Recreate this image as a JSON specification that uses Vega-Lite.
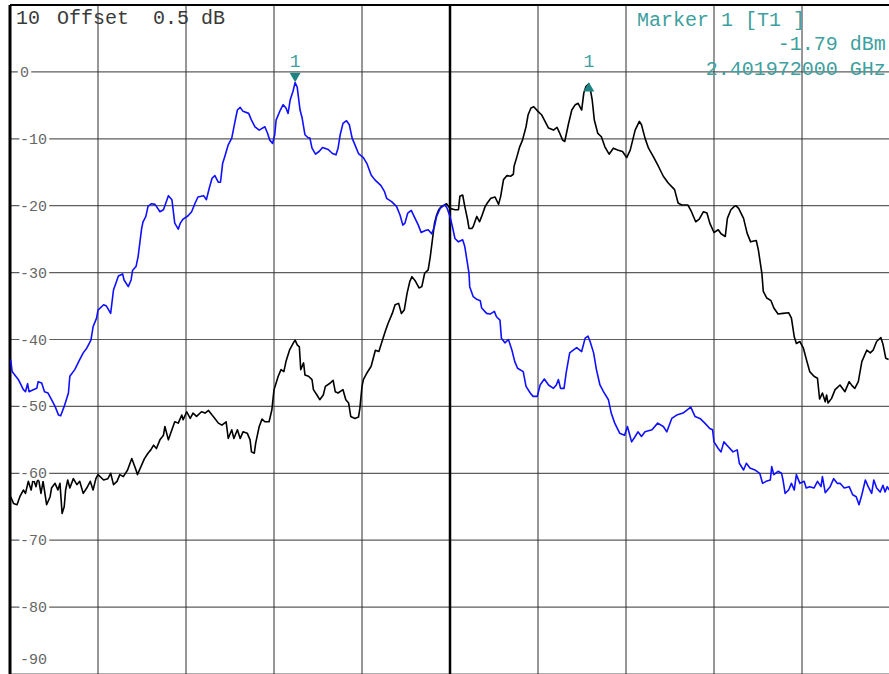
{
  "$schema": "https://vega.github.io/schema/vega-lite/v6.json",
  "width": 880,
  "height": 669,
  "autosize": {"type": "none"},
  "padding": {"left": 10, "top": 5, "right": 0, "bottom": 0},
  "background": "white",
  "config": {"view": {"stroke": null}},
  "datasets": {
    "levels": [
      {"level": 0, "label": "0"},
      {"level": -10, "label": "-10"},
      {"level": -20, "label": "-20"},
      {"level": -30, "label": "-30"},
      {"level": -40, "label": "-40"},
      {"level": -50, "label": "-50"},
      {"level": -60, "label": "-60"},
      {"level": -70, "label": "-70"},
      {"level": -80, "label": "-80"},
      {"level": -90, "label": "-90"}
    ],
    "divisions": [
      {"freq": 2395.00},
      {"freq": 2396.25},
      {"freq": 2397.50},
      {"freq": 2398.75},
      {"freq": 2401.25},
      {"freq": 2402.50},
      {"freq": 2403.75},
      {"freq": 2405.00}
    ],
    "markers": [
      {"marker": 1, "trace": "T2", "freq": 2397.80, "level": -1.6},
      {"marker": 1, "trace": "T1", "freq": 2401.972, "level": -1.79}
    ],
    "traces": [
      {"trace": "T1", "freq": 2393.76, "level": -63.5},
      {"trace": "T1", "freq": 2393.80, "level": -64.5},
      {"trace": "T1", "freq": 2393.85, "level": -64.7},
      {"trace": "T1", "freq": 2393.89, "level": -63.5},
      {"trace": "T1", "freq": 2393.94, "level": -62.5},
      {"trace": "T1", "freq": 2393.97, "level": -63.0},
      {"trace": "T1", "freq": 2394.01, "level": -61.2},
      {"trace": "T1", "freq": 2394.05, "level": -62.5},
      {"trace": "T1", "freq": 2394.08, "level": -60.8},
      {"trace": "T1", "freq": 2394.12, "level": -62.0},
      {"trace": "T1", "freq": 2394.15, "level": -60.5},
      {"trace": "T1", "freq": 2394.19, "level": -63.0},
      {"trace": "T1", "freq": 2394.22, "level": -61.2},
      {"trace": "T1", "freq": 2394.27, "level": -64.7},
      {"trace": "T1", "freq": 2394.32, "level": -63.5},
      {"trace": "T1", "freq": 2394.34, "level": -62.2},
      {"trace": "T1", "freq": 2394.39, "level": -61.5},
      {"trace": "T1", "freq": 2394.43, "level": -62.5},
      {"trace": "T1", "freq": 2394.46, "level": -61.5},
      {"trace": "T1", "freq": 2394.49, "level": -66.0},
      {"trace": "T1", "freq": 2394.52, "level": -65.0},
      {"trace": "T1", "freq": 2394.54, "level": -62.5},
      {"trace": "T1", "freq": 2394.57, "level": -61.0},
      {"trace": "T1", "freq": 2394.60, "level": -62.2},
      {"trace": "T1", "freq": 2394.65, "level": -60.8},
      {"trace": "T1", "freq": 2394.70, "level": -61.7},
      {"trace": "T1", "freq": 2394.74, "level": -61.2},
      {"trace": "T1", "freq": 2394.79, "level": -63.0},
      {"trace": "T1", "freq": 2394.84, "level": -62.2},
      {"trace": "T1", "freq": 2394.89, "level": -61.2},
      {"trace": "T1", "freq": 2394.93, "level": -62.5},
      {"trace": "T1", "freq": 2394.97, "level": -60.8},
      {"trace": "T1", "freq": 2395.00, "level": -60.2},
      {"trace": "T1", "freq": 2395.08, "level": -61.0},
      {"trace": "T1", "freq": 2395.14, "level": -60.8},
      {"trace": "T1", "freq": 2395.18, "level": -60.0},
      {"trace": "T1", "freq": 2395.22, "level": -61.7},
      {"trace": "T1", "freq": 2395.27, "level": -61.2},
      {"trace": "T1", "freq": 2395.31, "level": -60.2},
      {"trace": "T1", "freq": 2395.36, "level": -60.5},
      {"trace": "T1", "freq": 2395.42, "level": -59.5},
      {"trace": "T1", "freq": 2395.48, "level": -57.8},
      {"trace": "T1", "freq": 2395.54, "level": -59.5},
      {"trace": "T1", "freq": 2395.56, "level": -60.2},
      {"trace": "T1", "freq": 2395.61, "level": -59.0},
      {"trace": "T1", "freq": 2395.66, "level": -57.8},
      {"trace": "T1", "freq": 2395.71, "level": -57.0},
      {"trace": "T1", "freq": 2395.75, "level": -56.5},
      {"trace": "T1", "freq": 2395.79, "level": -55.8},
      {"trace": "T1", "freq": 2395.83, "level": -56.3},
      {"trace": "T1", "freq": 2395.88, "level": -55.0},
      {"trace": "T1", "freq": 2395.93, "level": -54.3},
      {"trace": "T1", "freq": 2395.95, "level": -53.0},
      {"trace": "T1", "freq": 2396.00, "level": -55.0},
      {"trace": "T1", "freq": 2396.05, "level": -53.5},
      {"trace": "T1", "freq": 2396.09, "level": -52.3},
      {"trace": "T1", "freq": 2396.14, "level": -52.5},
      {"trace": "T1", "freq": 2396.19, "level": -51.3},
      {"trace": "T1", "freq": 2396.21, "level": -52.0},
      {"trace": "T1", "freq": 2396.26, "level": -50.8},
      {"trace": "T1", "freq": 2396.31, "level": -51.8},
      {"trace": "T1", "freq": 2396.35, "level": -51.0},
      {"trace": "T1", "freq": 2396.40, "level": -51.5},
      {"trace": "T1", "freq": 2396.47, "level": -50.8},
      {"trace": "T1", "freq": 2396.52, "level": -51.0},
      {"trace": "T1", "freq": 2396.57, "level": -50.6},
      {"trace": "T1", "freq": 2396.62, "level": -51.3},
      {"trace": "T1", "freq": 2396.66, "level": -51.8},
      {"trace": "T1", "freq": 2396.71, "level": -52.5},
      {"trace": "T1", "freq": 2396.76, "level": -52.8},
      {"trace": "T1", "freq": 2396.82, "level": -52.3},
      {"trace": "T1", "freq": 2396.85, "level": -54.8},
      {"trace": "T1", "freq": 2396.90, "level": -53.5},
      {"trace": "T1", "freq": 2396.93, "level": -54.8},
      {"trace": "T1", "freq": 2396.98, "level": -53.5},
      {"trace": "T1", "freq": 2397.02, "level": -54.8},
      {"trace": "T1", "freq": 2397.06, "level": -53.8},
      {"trace": "T1", "freq": 2397.12, "level": -54.0},
      {"trace": "T1", "freq": 2397.16, "level": -55.0},
      {"trace": "T1", "freq": 2397.18, "level": -56.8},
      {"trace": "T1", "freq": 2397.22, "level": -57.0},
      {"trace": "T1", "freq": 2397.24, "level": -55.5},
      {"trace": "T1", "freq": 2397.29, "level": -53.0},
      {"trace": "T1", "freq": 2397.33, "level": -51.9},
      {"trace": "T1", "freq": 2397.37, "level": -52.3},
      {"trace": "T1", "freq": 2397.43, "level": -52.3},
      {"trace": "T1", "freq": 2397.47, "level": -50.5},
      {"trace": "T1", "freq": 2397.50, "level": -47.5},
      {"trace": "T1", "freq": 2397.56, "level": -45.5},
      {"trace": "T1", "freq": 2397.60, "level": -44.5},
      {"trace": "T1", "freq": 2397.64, "level": -44.8},
      {"trace": "T1", "freq": 2397.67, "level": -43.3},
      {"trace": "T1", "freq": 2397.72, "level": -41.6},
      {"trace": "T1", "freq": 2397.77, "level": -40.6},
      {"trace": "T1", "freq": 2397.80, "level": -40.1},
      {"trace": "T1", "freq": 2397.83, "level": -40.8},
      {"trace": "T1", "freq": 2397.86, "level": -41.1},
      {"trace": "T1", "freq": 2397.88, "level": -44.5},
      {"trace": "T1", "freq": 2397.92, "level": -43.5},
      {"trace": "T1", "freq": 2397.94, "level": -45.3},
      {"trace": "T1", "freq": 2397.99, "level": -45.5},
      {"trace": "T1", "freq": 2398.04, "level": -46.0},
      {"trace": "T1", "freq": 2398.06, "level": -47.5},
      {"trace": "T1", "freq": 2398.11, "level": -48.3},
      {"trace": "T1", "freq": 2398.15, "level": -49.0},
      {"trace": "T1", "freq": 2398.20, "level": -48.3},
      {"trace": "T1", "freq": 2398.23, "level": -47.0},
      {"trace": "T1", "freq": 2398.30, "level": -46.5},
      {"trace": "T1", "freq": 2398.34, "level": -46.1},
      {"trace": "T1", "freq": 2398.37, "level": -47.8},
      {"trace": "T1", "freq": 2398.41, "level": -48.0},
      {"trace": "T1", "freq": 2398.48, "level": -47.5},
      {"trace": "T1", "freq": 2398.52, "level": -49.0},
      {"trace": "T1", "freq": 2398.56, "level": -49.5},
      {"trace": "T1", "freq": 2398.59, "level": -51.5},
      {"trace": "T1", "freq": 2398.65, "level": -51.8},
      {"trace": "T1", "freq": 2398.70, "level": -51.6},
      {"trace": "T1", "freq": 2398.72, "level": -50.3},
      {"trace": "T1", "freq": 2398.75, "level": -47.0},
      {"trace": "T1", "freq": 2398.77, "level": -46.0},
      {"trace": "T1", "freq": 2398.82, "level": -45.0},
      {"trace": "T1", "freq": 2398.88, "level": -44.0},
      {"trace": "T1", "freq": 2398.91, "level": -42.8},
      {"trace": "T1", "freq": 2398.94, "level": -41.6},
      {"trace": "T1", "freq": 2398.99, "level": -41.8},
      {"trace": "T1", "freq": 2399.04, "level": -40.1},
      {"trace": "T1", "freq": 2399.08, "level": -38.8},
      {"trace": "T1", "freq": 2399.12, "level": -37.6},
      {"trace": "T1", "freq": 2399.18, "level": -36.1},
      {"trace": "T1", "freq": 2399.22, "level": -34.8},
      {"trace": "T1", "freq": 2399.27, "level": -34.6},
      {"trace": "T1", "freq": 2399.31, "level": -36.1},
      {"trace": "T1", "freq": 2399.35, "level": -35.6},
      {"trace": "T1", "freq": 2399.39, "level": -33.1},
      {"trace": "T1", "freq": 2399.43, "level": -31.3},
      {"trace": "T1", "freq": 2399.46, "level": -30.6},
      {"trace": "T1", "freq": 2399.51, "level": -31.3},
      {"trace": "T1", "freq": 2399.56, "level": -32.3},
      {"trace": "T1", "freq": 2399.60, "level": -32.1},
      {"trace": "T1", "freq": 2399.64, "level": -30.1},
      {"trace": "T1", "freq": 2399.69, "level": -29.6},
      {"trace": "T1", "freq": 2399.72, "level": -27.6},
      {"trace": "T1", "freq": 2399.75, "level": -25.1},
      {"trace": "T1", "freq": 2399.78, "level": -22.6},
      {"trace": "T1", "freq": 2399.81, "level": -21.4},
      {"trace": "T1", "freq": 2399.84, "level": -20.6},
      {"trace": "T1", "freq": 2399.88, "level": -20.1},
      {"trace": "T1", "freq": 2399.92, "level": -19.9},
      {"trace": "T1", "freq": 2399.95, "level": -19.7},
      {"trace": "T1", "freq": 2400.00, "level": -20.4},
      {"trace": "T1", "freq": 2400.07, "level": -20.6},
      {"trace": "T1", "freq": 2400.12, "level": -20.6},
      {"trace": "T1", "freq": 2400.14, "level": -18.6},
      {"trace": "T1", "freq": 2400.18, "level": -18.4},
      {"trace": "T1", "freq": 2400.21, "level": -20.1},
      {"trace": "T1", "freq": 2400.25, "level": -22.1},
      {"trace": "T1", "freq": 2400.27, "level": -23.4},
      {"trace": "T1", "freq": 2400.31, "level": -23.4},
      {"trace": "T1", "freq": 2400.33, "level": -23.1},
      {"trace": "T1", "freq": 2400.38, "level": -21.6},
      {"trace": "T1", "freq": 2400.42, "level": -22.4},
      {"trace": "T1", "freq": 2400.45, "level": -21.6},
      {"trace": "T1", "freq": 2400.50, "level": -20.1},
      {"trace": "T1", "freq": 2400.53, "level": -19.6},
      {"trace": "T1", "freq": 2400.58, "level": -18.9},
      {"trace": "T1", "freq": 2400.64, "level": -18.7},
      {"trace": "T1", "freq": 2400.69, "level": -19.8},
      {"trace": "T1", "freq": 2400.72, "level": -18.6},
      {"trace": "T1", "freq": 2400.76, "level": -16.1},
      {"trace": "T1", "freq": 2400.81, "level": -15.5},
      {"trace": "T1", "freq": 2400.86, "level": -15.6},
      {"trace": "T1", "freq": 2400.90, "level": -15.3},
      {"trace": "T1", "freq": 2400.91, "level": -14.1},
      {"trace": "T1", "freq": 2400.95, "level": -12.7},
      {"trace": "T1", "freq": 2400.99, "level": -11.2},
      {"trace": "T1", "freq": 2401.03, "level": -10.2},
      {"trace": "T1", "freq": 2401.08, "level": -8.2},
      {"trace": "T1", "freq": 2401.11, "level": -6.4},
      {"trace": "T1", "freq": 2401.15, "level": -5.4},
      {"trace": "T1", "freq": 2401.19, "level": -5.2},
      {"trace": "T1", "freq": 2401.25, "level": -5.9},
      {"trace": "T1", "freq": 2401.30, "level": -6.4},
      {"trace": "T1", "freq": 2401.35, "level": -7.4},
      {"trace": "T1", "freq": 2401.40, "level": -8.4},
      {"trace": "T1", "freq": 2401.47, "level": -8.7},
      {"trace": "T1", "freq": 2401.52, "level": -8.3},
      {"trace": "T1", "freq": 2401.56, "level": -9.2},
      {"trace": "T1", "freq": 2401.60, "level": -10.2},
      {"trace": "T1", "freq": 2401.63, "level": -10.4},
      {"trace": "T1", "freq": 2401.68, "level": -7.9},
      {"trace": "T1", "freq": 2401.73, "level": -5.7},
      {"trace": "T1", "freq": 2401.78, "level": -4.9},
      {"trace": "T1", "freq": 2401.82, "level": -4.7},
      {"trace": "T1", "freq": 2401.87, "level": -5.7},
      {"trace": "T1", "freq": 2401.90, "level": -3.2},
      {"trace": "T1", "freq": 2401.93, "level": -2.2},
      {"trace": "T1", "freq": 2401.972, "level": -1.79},
      {"trace": "T1", "freq": 2401.99, "level": -2.4},
      {"trace": "T1", "freq": 2402.02, "level": -4.2},
      {"trace": "T1", "freq": 2402.05, "level": -7.2},
      {"trace": "T1", "freq": 2402.10, "level": -9.2},
      {"trace": "T1", "freq": 2402.15, "level": -9.7},
      {"trace": "T1", "freq": 2402.20, "level": -11.2},
      {"trace": "T1", "freq": 2402.26, "level": -12.3},
      {"trace": "T1", "freq": 2402.32, "level": -11.4},
      {"trace": "T1", "freq": 2402.39, "level": -11.7},
      {"trace": "T1", "freq": 2402.45, "level": -11.9},
      {"trace": "T1", "freq": 2402.51, "level": -12.8},
      {"trace": "T1", "freq": 2402.56, "level": -11.7},
      {"trace": "T1", "freq": 2402.63, "level": -8.7},
      {"trace": "T1", "freq": 2402.69, "level": -7.4},
      {"trace": "T1", "freq": 2402.72, "level": -7.9},
      {"trace": "T1", "freq": 2402.77, "level": -9.9},
      {"trace": "T1", "freq": 2402.82, "level": -11.4},
      {"trace": "T1", "freq": 2402.89, "level": -12.7},
      {"trace": "T1", "freq": 2402.96, "level": -14.1},
      {"trace": "T1", "freq": 2403.03, "level": -15.6},
      {"trace": "T1", "freq": 2403.10, "level": -16.6},
      {"trace": "T1", "freq": 2403.19, "level": -17.6},
      {"trace": "T1", "freq": 2403.24, "level": -19.6},
      {"trace": "T1", "freq": 2403.29, "level": -19.9},
      {"trace": "T1", "freq": 2403.38, "level": -19.9},
      {"trace": "T1", "freq": 2403.43, "level": -20.9},
      {"trace": "T1", "freq": 2403.49, "level": -22.4},
      {"trace": "T1", "freq": 2403.54, "level": -22.0},
      {"trace": "T1", "freq": 2403.60, "level": -20.9},
      {"trace": "T1", "freq": 2403.65, "level": -21.1},
      {"trace": "T1", "freq": 2403.69, "level": -22.6},
      {"trace": "T1", "freq": 2403.75, "level": -24.0},
      {"trace": "T1", "freq": 2403.81, "level": -23.6},
      {"trace": "T1", "freq": 2403.85, "level": -24.2},
      {"trace": "T1", "freq": 2403.91, "level": -24.6},
      {"trace": "T1", "freq": 2403.94, "level": -21.9},
      {"trace": "T1", "freq": 2403.99, "level": -20.6},
      {"trace": "T1", "freq": 2404.04, "level": -20.1},
      {"trace": "T1", "freq": 2404.06, "level": -20.0},
      {"trace": "T1", "freq": 2404.10, "level": -20.4},
      {"trace": "T1", "freq": 2404.17, "level": -21.9},
      {"trace": "T1", "freq": 2404.22, "level": -24.1},
      {"trace": "T1", "freq": 2404.27, "level": -25.4},
      {"trace": "T1", "freq": 2404.35, "level": -25.2},
      {"trace": "T1", "freq": 2404.38, "level": -26.6},
      {"trace": "T1", "freq": 2404.43, "level": -30.1},
      {"trace": "T1", "freq": 2404.45, "level": -32.8},
      {"trace": "T1", "freq": 2404.50, "level": -33.8},
      {"trace": "T1", "freq": 2404.56, "level": -34.2},
      {"trace": "T1", "freq": 2404.60, "level": -35.3},
      {"trace": "T1", "freq": 2404.66, "level": -36.2},
      {"trace": "T1", "freq": 2404.73, "level": -36.1},
      {"trace": "T1", "freq": 2404.81, "level": -36.0},
      {"trace": "T1", "freq": 2404.85, "level": -36.8},
      {"trace": "T1", "freq": 2404.89, "level": -39.6},
      {"trace": "T1", "freq": 2404.92, "level": -40.6},
      {"trace": "T1", "freq": 2404.97, "level": -40.3},
      {"trace": "T1", "freq": 2405.02, "level": -41.3},
      {"trace": "T1", "freq": 2405.07, "level": -43.3},
      {"trace": "T1", "freq": 2405.11, "level": -44.8},
      {"trace": "T1", "freq": 2405.17, "level": -45.5},
      {"trace": "T1", "freq": 2405.22, "level": -45.8},
      {"trace": "T1", "freq": 2405.25, "level": -48.9},
      {"trace": "T1", "freq": 2405.29, "level": -48.0},
      {"trace": "T1", "freq": 2405.33, "level": -49.3},
      {"trace": "T1", "freq": 2405.35, "level": -48.3},
      {"trace": "T1", "freq": 2405.37, "level": -49.5},
      {"trace": "T1", "freq": 2405.42, "level": -48.8},
      {"trace": "T1", "freq": 2405.47, "level": -47.5},
      {"trace": "T1", "freq": 2405.54, "level": -46.8},
      {"trace": "T1", "freq": 2405.61, "level": -47.8},
      {"trace": "T1", "freq": 2405.67, "level": -46.3},
      {"trace": "T1", "freq": 2405.71, "level": -46.9},
      {"trace": "T1", "freq": 2405.75, "level": -47.3},
      {"trace": "T1", "freq": 2405.80, "level": -46.3},
      {"trace": "T1", "freq": 2405.85, "level": -43.3},
      {"trace": "T1", "freq": 2405.92, "level": -41.6},
      {"trace": "T1", "freq": 2405.97, "level": -42.0},
      {"trace": "T1", "freq": 2406.01, "level": -41.6},
      {"trace": "T1", "freq": 2406.06, "level": -40.3},
      {"trace": "T1", "freq": 2406.12, "level": -39.7},
      {"trace": "T1", "freq": 2406.15, "level": -40.7},
      {"trace": "T1", "freq": 2406.19, "level": -42.8},
      {"trace": "T1", "freq": 2406.23, "level": -43.0},

      {"trace": "T2", "freq": 2393.76, "level": -43.0},
      {"trace": "T2", "freq": 2393.78, "level": -44.8},
      {"trace": "T2", "freq": 2393.87, "level": -46.0},
      {"trace": "T2", "freq": 2393.94, "level": -47.5},
      {"trace": "T2", "freq": 2393.97, "level": -47.8},
      {"trace": "T2", "freq": 2394.00, "level": -46.6},
      {"trace": "T2", "freq": 2394.02, "level": -47.8},
      {"trace": "T2", "freq": 2394.08, "level": -47.5},
      {"trace": "T2", "freq": 2394.13, "level": -47.3},
      {"trace": "T2", "freq": 2394.15, "level": -46.3},
      {"trace": "T2", "freq": 2394.20, "level": -46.5},
      {"trace": "T2", "freq": 2394.24, "level": -47.8},
      {"trace": "T2", "freq": 2394.29, "level": -48.0},
      {"trace": "T2", "freq": 2394.34, "level": -49.0},
      {"trace": "T2", "freq": 2394.39, "level": -50.0},
      {"trace": "T2", "freq": 2394.44, "level": -51.3},
      {"trace": "T2", "freq": 2394.47, "level": -51.4},
      {"trace": "T2", "freq": 2394.52, "level": -50.0},
      {"trace": "T2", "freq": 2394.58, "level": -48.0},
      {"trace": "T2", "freq": 2394.60, "level": -45.5},
      {"trace": "T2", "freq": 2394.67, "level": -44.5},
      {"trace": "T2", "freq": 2394.74, "level": -43.0},
      {"trace": "T2", "freq": 2394.79, "level": -42.0},
      {"trace": "T2", "freq": 2394.84, "level": -41.3},
      {"trace": "T2", "freq": 2394.90, "level": -40.1},
      {"trace": "T2", "freq": 2394.93, "level": -38.1},
      {"trace": "T2", "freq": 2394.98, "level": -36.8},
      {"trace": "T2", "freq": 2395.00, "level": -35.6},
      {"trace": "T2", "freq": 2395.08, "level": -34.8},
      {"trace": "T2", "freq": 2395.12, "level": -35.0},
      {"trace": "T2", "freq": 2395.18, "level": -36.1},
      {"trace": "T2", "freq": 2395.22, "level": -32.6},
      {"trace": "T2", "freq": 2395.29, "level": -30.5},
      {"trace": "T2", "freq": 2395.35, "level": -30.2},
      {"trace": "T2", "freq": 2395.37, "level": -31.1},
      {"trace": "T2", "freq": 2395.43, "level": -32.1},
      {"trace": "T2", "freq": 2395.47, "level": -31.1},
      {"trace": "T2", "freq": 2395.49, "level": -29.7},
      {"trace": "T2", "freq": 2395.54, "level": -29.1},
      {"trace": "T2", "freq": 2395.57, "level": -27.6},
      {"trace": "T2", "freq": 2395.62, "level": -23.4},
      {"trace": "T2", "freq": 2395.64, "level": -22.4},
      {"trace": "T2", "freq": 2395.68, "level": -21.6},
      {"trace": "T2", "freq": 2395.71, "level": -20.1},
      {"trace": "T2", "freq": 2395.76, "level": -19.7},
      {"trace": "T2", "freq": 2395.81, "level": -19.8},
      {"trace": "T2", "freq": 2395.83, "level": -20.1},
      {"trace": "T2", "freq": 2395.88, "level": -20.9},
      {"trace": "T2", "freq": 2395.93, "level": -20.6},
      {"trace": "T2", "freq": 2396.00, "level": -18.5},
      {"trace": "T2", "freq": 2396.05, "level": -19.1},
      {"trace": "T2", "freq": 2396.09, "level": -22.6},
      {"trace": "T2", "freq": 2396.14, "level": -23.5},
      {"trace": "T2", "freq": 2396.17, "level": -22.6},
      {"trace": "T2", "freq": 2396.21, "level": -22.0},
      {"trace": "T2", "freq": 2396.28, "level": -21.5},
      {"trace": "T2", "freq": 2396.33, "level": -20.9},
      {"trace": "T2", "freq": 2396.38, "level": -19.6},
      {"trace": "T2", "freq": 2396.42, "level": -18.7},
      {"trace": "T2", "freq": 2396.50, "level": -18.5},
      {"trace": "T2", "freq": 2396.54, "level": -19.1},
      {"trace": "T2", "freq": 2396.58, "level": -17.4},
      {"trace": "T2", "freq": 2396.62, "level": -15.9},
      {"trace": "T2", "freq": 2396.66, "level": -15.5},
      {"trace": "T2", "freq": 2396.71, "level": -16.5},
      {"trace": "T2", "freq": 2396.74, "level": -16.5},
      {"trace": "T2", "freq": 2396.77, "level": -13.7},
      {"trace": "T2", "freq": 2396.80, "level": -12.7},
      {"trace": "T2", "freq": 2396.85, "level": -10.9},
      {"trace": "T2", "freq": 2396.90, "level": -9.9},
      {"trace": "T2", "freq": 2396.95, "level": -7.2},
      {"trace": "T2", "freq": 2396.98, "level": -5.7},
      {"trace": "T2", "freq": 2397.02, "level": -5.3},
      {"trace": "T2", "freq": 2397.06, "level": -5.9},
      {"trace": "T2", "freq": 2397.14, "level": -6.2},
      {"trace": "T2", "freq": 2397.18, "level": -7.2},
      {"trace": "T2", "freq": 2397.23, "level": -8.2},
      {"trace": "T2", "freq": 2397.29, "level": -8.7},
      {"trace": "T2", "freq": 2397.37, "level": -8.2},
      {"trace": "T2", "freq": 2397.41, "level": -9.2},
      {"trace": "T2", "freq": 2397.44, "level": -10.2},
      {"trace": "T2", "freq": 2397.48, "level": -10.7},
      {"trace": "T2", "freq": 2397.51, "level": -9.4},
      {"trace": "T2", "freq": 2397.53, "level": -7.2},
      {"trace": "T2", "freq": 2397.59, "level": -5.7},
      {"trace": "T2", "freq": 2397.63, "level": -4.9},
      {"trace": "T2", "freq": 2397.67, "level": -5.4},
      {"trace": "T2", "freq": 2397.70, "level": -6.2},
      {"trace": "T2", "freq": 2397.73, "level": -4.2},
      {"trace": "T2", "freq": 2397.77, "level": -2.9},
      {"trace": "T2", "freq": 2397.80, "level": -1.6},
      {"trace": "T2", "freq": 2397.83, "level": -2.3},
      {"trace": "T2", "freq": 2397.87, "level": -5.7},
      {"trace": "T2", "freq": 2397.90, "level": -6.9},
      {"trace": "T2", "freq": 2397.94, "level": -9.4},
      {"trace": "T2", "freq": 2397.98, "level": -9.8},
      {"trace": "T2", "freq": 2398.01, "level": -9.9},
      {"trace": "T2", "freq": 2398.04, "level": -11.4},
      {"trace": "T2", "freq": 2398.09, "level": -12.3},
      {"trace": "T2", "freq": 2398.14, "level": -11.9},
      {"trace": "T2", "freq": 2398.19, "level": -11.3},
      {"trace": "T2", "freq": 2398.27, "level": -11.6},
      {"trace": "T2", "freq": 2398.33, "level": -12.2},
      {"trace": "T2", "freq": 2398.38, "level": -12.4},
      {"trace": "T2", "freq": 2398.41, "level": -11.4},
      {"trace": "T2", "freq": 2398.44, "level": -9.4},
      {"trace": "T2", "freq": 2398.48, "level": -7.7},
      {"trace": "T2", "freq": 2398.53, "level": -7.3},
      {"trace": "T2", "freq": 2398.57, "level": -7.9},
      {"trace": "T2", "freq": 2398.61, "level": -9.9},
      {"trace": "T2", "freq": 2398.65, "level": -10.9},
      {"trace": "T2", "freq": 2398.70, "level": -12.2},
      {"trace": "T2", "freq": 2398.77, "level": -12.8},
      {"trace": "T2", "freq": 2398.82, "level": -13.7},
      {"trace": "T2", "freq": 2398.88, "level": -15.4},
      {"trace": "T2", "freq": 2398.93, "level": -16.1},
      {"trace": "T2", "freq": 2399.02, "level": -17.0},
      {"trace": "T2", "freq": 2399.07, "level": -17.9},
      {"trace": "T2", "freq": 2399.10, "level": -18.9},
      {"trace": "T2", "freq": 2399.17, "level": -19.4},
      {"trace": "T2", "freq": 2399.24, "level": -20.1},
      {"trace": "T2", "freq": 2399.29, "level": -21.4},
      {"trace": "T2", "freq": 2399.33, "level": -22.9},
      {"trace": "T2", "freq": 2399.36, "level": -22.6},
      {"trace": "T2", "freq": 2399.40, "level": -21.1},
      {"trace": "T2", "freq": 2399.45, "level": -20.7},
      {"trace": "T2", "freq": 2399.49, "level": -21.6},
      {"trace": "T2", "freq": 2399.55, "level": -22.9},
      {"trace": "T2", "freq": 2399.59, "level": -24.0},
      {"trace": "T2", "freq": 2399.65, "level": -23.7},
      {"trace": "T2", "freq": 2399.69, "level": -23.6},
      {"trace": "T2", "freq": 2399.74, "level": -24.2},
      {"trace": "T2", "freq": 2399.78, "level": -23.1},
      {"trace": "T2", "freq": 2399.81, "level": -21.6},
      {"trace": "T2", "freq": 2399.86, "level": -20.4},
      {"trace": "T2", "freq": 2399.91, "level": -20.0},
      {"trace": "T2", "freq": 2399.93, "level": -19.9},
      {"trace": "T2", "freq": 2399.96, "level": -20.4},
      {"trace": "T2", "freq": 2400.00, "level": -21.6},
      {"trace": "T2", "freq": 2400.04, "level": -23.4},
      {"trace": "T2", "freq": 2400.07, "level": -24.9},
      {"trace": "T2", "freq": 2400.12, "level": -25.4},
      {"trace": "T2", "freq": 2400.18, "level": -25.1},
      {"trace": "T2", "freq": 2400.21, "level": -26.1},
      {"trace": "T2", "freq": 2400.24, "level": -28.1},
      {"trace": "T2", "freq": 2400.27, "level": -30.1},
      {"trace": "T2", "freq": 2400.28, "level": -32.1},
      {"trace": "T2", "freq": 2400.33, "level": -33.6},
      {"trace": "T2", "freq": 2400.38, "level": -34.0},
      {"trace": "T2", "freq": 2400.43, "level": -34.2},
      {"trace": "T2", "freq": 2400.45, "level": -35.3},
      {"trace": "T2", "freq": 2400.52, "level": -36.1},
      {"trace": "T2", "freq": 2400.57, "level": -36.2},
      {"trace": "T2", "freq": 2400.63, "level": -35.8},
      {"trace": "T2", "freq": 2400.66, "level": -36.6},
      {"trace": "T2", "freq": 2400.71, "level": -37.1},
      {"trace": "T2", "freq": 2400.73, "level": -39.8},
      {"trace": "T2", "freq": 2400.78, "level": -40.5},
      {"trace": "T2", "freq": 2400.83, "level": -40.0},
      {"trace": "T2", "freq": 2400.88, "level": -41.6},
      {"trace": "T2", "freq": 2400.92, "level": -43.3},
      {"trace": "T2", "freq": 2400.96, "level": -44.3},
      {"trace": "T2", "freq": 2401.04, "level": -44.8},
      {"trace": "T2", "freq": 2401.08, "level": -47.0},
      {"trace": "T2", "freq": 2401.14, "level": -48.0},
      {"trace": "T2", "freq": 2401.18, "level": -48.5},
      {"trace": "T2", "freq": 2401.24, "level": -48.5},
      {"trace": "T2", "freq": 2401.28, "level": -46.8},
      {"trace": "T2", "freq": 2401.34, "level": -45.9},
      {"trace": "T2", "freq": 2401.40, "level": -46.8},
      {"trace": "T2", "freq": 2401.47, "level": -47.3},
      {"trace": "T2", "freq": 2401.51, "level": -46.8},
      {"trace": "T2", "freq": 2401.54, "level": -46.0},
      {"trace": "T2", "freq": 2401.57, "level": -47.3},
      {"trace": "T2", "freq": 2401.62, "level": -47.3},
      {"trace": "T2", "freq": 2401.65, "level": -45.0},
      {"trace": "T2", "freq": 2401.70, "level": -42.0},
      {"trace": "T2", "freq": 2401.75, "level": -41.6},
      {"trace": "T2", "freq": 2401.80, "level": -41.2},
      {"trace": "T2", "freq": 2401.87, "level": -41.8},
      {"trace": "T2", "freq": 2401.92, "level": -39.8},
      {"trace": "T2", "freq": 2401.96, "level": -39.5},
      {"trace": "T2", "freq": 2401.99, "level": -40.3},
      {"trace": "T2", "freq": 2402.04, "level": -42.0},
      {"trace": "T2", "freq": 2402.08, "level": -44.5},
      {"trace": "T2", "freq": 2402.13, "level": -46.8},
      {"trace": "T2", "freq": 2402.18, "level": -47.8},
      {"trace": "T2", "freq": 2402.25, "level": -49.0},
      {"trace": "T2", "freq": 2402.29, "level": -51.0},
      {"trace": "T2", "freq": 2402.34, "level": -52.5},
      {"trace": "T2", "freq": 2402.41, "level": -54.0},
      {"trace": "T2", "freq": 2402.48, "level": -54.3},
      {"trace": "T2", "freq": 2402.52, "level": -53.0},
      {"trace": "T2", "freq": 2402.58, "level": -55.3},
      {"trace": "T2", "freq": 2402.63, "level": -54.5},
      {"trace": "T2", "freq": 2402.67, "level": -53.8},
      {"trace": "T2", "freq": 2402.72, "level": -54.5},
      {"trace": "T2", "freq": 2402.77, "level": -53.8},
      {"trace": "T2", "freq": 2402.87, "level": -53.5},
      {"trace": "T2", "freq": 2402.95, "level": -52.5},
      {"trace": "T2", "freq": 2403.03, "level": -53.0},
      {"trace": "T2", "freq": 2403.08, "level": -53.8},
      {"trace": "T2", "freq": 2403.15, "level": -51.8},
      {"trace": "T2", "freq": 2403.22, "level": -51.3},
      {"trace": "T2", "freq": 2403.31, "level": -51.0},
      {"trace": "T2", "freq": 2403.36, "level": -50.6},
      {"trace": "T2", "freq": 2403.42, "level": -50.1},
      {"trace": "T2", "freq": 2403.48, "level": -51.5},
      {"trace": "T2", "freq": 2403.55, "level": -51.8},
      {"trace": "T2", "freq": 2403.62, "level": -52.5},
      {"trace": "T2", "freq": 2403.69, "level": -53.3},
      {"trace": "T2", "freq": 2403.73, "level": -53.5},
      {"trace": "T2", "freq": 2403.75, "level": -55.3},
      {"trace": "T2", "freq": 2403.81, "level": -56.3},
      {"trace": "T2", "freq": 2403.85, "level": -56.8},
      {"trace": "T2", "freq": 2403.89, "level": -55.3},
      {"trace": "T2", "freq": 2403.95, "level": -56.0},
      {"trace": "T2", "freq": 2404.02, "level": -56.8},
      {"trace": "T2", "freq": 2404.08, "level": -56.5},
      {"trace": "T2", "freq": 2404.11, "level": -58.5},
      {"trace": "T2", "freq": 2404.17, "level": -59.5},
      {"trace": "T2", "freq": 2404.21, "level": -58.5},
      {"trace": "T2", "freq": 2404.26, "level": -59.2},
      {"trace": "T2", "freq": 2404.33, "level": -59.5},
      {"trace": "T2", "freq": 2404.40, "level": -60.0},
      {"trace": "T2", "freq": 2404.44, "level": -61.5},
      {"trace": "T2", "freq": 2404.49, "level": -61.2},
      {"trace": "T2", "freq": 2404.55, "level": -61.0},
      {"trace": "T2", "freq": 2404.57, "level": -59.0},
      {"trace": "T2", "freq": 2404.60, "level": -60.2},
      {"trace": "T2", "freq": 2404.66, "level": -59.7},
      {"trace": "T2", "freq": 2404.71, "level": -60.0},
      {"trace": "T2", "freq": 2404.73, "level": -61.0},
      {"trace": "T2", "freq": 2404.76, "level": -63.0},
      {"trace": "T2", "freq": 2404.81, "level": -62.5},
      {"trace": "T2", "freq": 2404.85, "level": -61.5},
      {"trace": "T2", "freq": 2404.89, "level": -62.5},
      {"trace": "T2", "freq": 2404.92, "level": -60.2},
      {"trace": "T2", "freq": 2404.97, "level": -61.5},
      {"trace": "T2", "freq": 2405.03, "level": -61.2},
      {"trace": "T2", "freq": 2405.06, "level": -62.2},
      {"trace": "T2", "freq": 2405.11, "level": -62.0},
      {"trace": "T2", "freq": 2405.17, "level": -62.2},
      {"trace": "T2", "freq": 2405.22, "level": -61.2},
      {"trace": "T2", "freq": 2405.27, "level": -62.0},
      {"trace": "T2", "freq": 2405.29, "level": -60.5},
      {"trace": "T2", "freq": 2405.33, "level": -62.9},
      {"trace": "T2", "freq": 2405.40, "level": -62.0},
      {"trace": "T2", "freq": 2405.45, "level": -60.8},
      {"trace": "T2", "freq": 2405.50, "level": -61.5},
      {"trace": "T2", "freq": 2405.54, "level": -61.5},
      {"trace": "T2", "freq": 2405.60, "level": -62.2},
      {"trace": "T2", "freq": 2405.67, "level": -62.0},
      {"trace": "T2", "freq": 2405.72, "level": -63.2},
      {"trace": "T2", "freq": 2405.77, "level": -63.5},
      {"trace": "T2", "freq": 2405.81, "level": -64.7},
      {"trace": "T2", "freq": 2405.85, "level": -63.2},
      {"trace": "T2", "freq": 2405.90, "level": -61.0},
      {"trace": "T2", "freq": 2405.94, "level": -62.0},
      {"trace": "T2", "freq": 2405.99, "level": -63.0},
      {"trace": "T2", "freq": 2406.02, "level": -61.0},
      {"trace": "T2", "freq": 2406.06, "level": -62.2},
      {"trace": "T2", "freq": 2406.11, "level": -62.8},
      {"trace": "T2", "freq": 2406.15, "level": -61.8},
      {"trace": "T2", "freq": 2406.18, "level": -62.8},
      {"trace": "T2", "freq": 2406.21, "level": -62.0},
      {"trace": "T2", "freq": 2406.24, "level": -62.5}
    ]
  },
  "layer": [
    {
      "data": {"name": "levels"},
      "mark": {"type": "rule", "color": "#5e5e5e", "strokeWidth": 1.2},
      "encoding": {
        "y": {"field": "level", "type": "quantitative", "axis": null, "scale": {"domain": [-90, 10], "nice": false, "zero": false}}
      }
    },
    {
      "data": {"name": "divisions"},
      "mark": {"type": "rule", "color": "#2e2e2e", "strokeWidth": 1},
      "encoding": {
        "x": {"field": "freq", "type": "quantitative", "axis": null, "scale": {"domain": [2393.75, 2406.25], "nice": false, "zero": false}}
      }
    },
    {
      "data": {"values": [{}]},
      "mark": {"type": "rule", "color": "#000000", "strokeWidth": 2.5},
      "encoding": {"x": {"datum": 2400, "type": "quantitative", "axis": null}}
    },
    {
      "data": {"values": [{}]},
      "mark": {"type": "rule", "color": "#000000", "strokeWidth": 3},
      "encoding": {"x": {"datum": 2393.75, "type": "quantitative", "axis": null}}
    },
    {
      "data": {"values": [{}]},
      "mark": {"type": "rule", "color": "#000000", "strokeWidth": 2},
      "encoding": {"y": {"datum": 10, "type": "quantitative", "axis": null}}
    },
    {
      "data": {"name": "traces"},
      "mark": {"type": "line", "strokeWidth": 1.6, "strokeJoin": "round", "clip": true},
      "encoding": {
        "x": {"field": "freq", "type": "quantitative", "axis": null},
        "y": {"field": "level", "type": "quantitative", "axis": null},
        "color": {
          "field": "trace",
          "type": "nominal",
          "scale": {"domain": ["T1", "T2"], "range": ["#000000", "#1010ff"]},
          "legend": null
        },
        "detail": {"field": "trace"}
      }
    },
    {
      "data": {"name": "levels"},
      "transform": [{"filter": "datum.level > -90"}],
      "mark": {"type": "text", "align": "left", "baseline": "middle", "dx": 10, "font": "Liberation Mono", "fontSize": 15, "stroke": "white", "strokeWidth": 6, "fill": "white"},
      "encoding": {
        "x": {"datum": 2393.75, "type": "quantitative", "axis": null},
        "y": {"field": "level", "type": "quantitative", "axis": null},
        "text": {"field": "label"}
      }
    },
    {
      "data": {"name": "levels"},
      "transform": [{"filter": "datum.level > -90"}],
      "mark": {"type": "text", "align": "left", "baseline": "middle", "dx": 10, "font": "Liberation Mono", "fontSize": 15, "fill": "#666666"},
      "encoding": {
        "x": {"datum": 2393.75, "type": "quantitative", "axis": null},
        "y": {"field": "level", "type": "quantitative", "axis": null},
        "text": {"field": "label"}
      }
    },
    {
      "data": {"name": "levels"},
      "transform": [{"filter": "datum.level == -90"}],
      "mark": {"type": "text", "align": "left", "baseline": "bottom", "dx": 10, "dy": -7, "font": "Liberation Mono", "fontSize": 15, "fill": "#666666"},
      "encoding": {
        "x": {"datum": 2393.75, "type": "quantitative", "axis": null},
        "y": {"field": "level", "type": "quantitative", "axis": null},
        "text": {"field": "label"}
      }
    },
    {
      "data": {"values": [{}]},
      "mark": {"type": "text", "align": "left", "baseline": "alphabetic", "font": "Liberation Mono", "fontSize": 20, "fill": "#3a3a3a"},
      "encoding": {
        "x": {"datum": 2393.835, "type": "quantitative", "axis": null},
        "y": {"datum": 7.2, "type": "quantitative", "axis": null},
        "text": {"value": "10"}
      }
    },
    {
      "data": {"values": [{}]},
      "mark": {"type": "text", "align": "left", "baseline": "alphabetic", "font": "Liberation Mono", "fontSize": 20, "fill": "#3a3a3a"},
      "encoding": {
        "x": {"datum": 2394.418, "type": "quantitative", "axis": null},
        "y": {"datum": 7.2, "type": "quantitative", "axis": null},
        "text": {"value": "Offset"}
      }
    },
    {
      "data": {"values": [{}]},
      "mark": {"type": "text", "align": "left", "baseline": "alphabetic", "font": "Liberation Mono", "fontSize": 20, "fill": "#3a3a3a"},
      "encoding": {
        "x": {"datum": 2395.781, "type": "quantitative", "axis": null},
        "y": {"datum": 7.2, "type": "quantitative", "axis": null},
        "text": {"value": "0.5 dB"}
      }
    },
    {
      "data": {"values": [{}]},
      "mark": {"type": "text", "align": "left", "baseline": "alphabetic", "font": "Liberation Mono", "fontSize": 20, "fill": "#3e9f9f"},
      "encoding": {
        "x": {"datum": 2402.656, "type": "quantitative", "axis": null},
        "y": {"datum": 6.88, "type": "quantitative", "axis": null},
        "text": {"value": "Marker 1 [T1 ]"}
      }
    },
    {
      "data": {"values": [{}]},
      "mark": {"type": "text", "align": "right", "baseline": "alphabetic", "font": "Liberation Mono", "fontSize": 20, "fill": "#3e9f9f"},
      "encoding": {
        "x": {"datum": 2406.19, "type": "quantitative", "axis": null},
        "y": {"datum": 3.29, "type": "quantitative", "axis": null},
        "text": {"value": "-1.79 dBm"}
      }
    },
    {
      "data": {"values": [{}]},
      "mark": {"type": "text", "align": "right", "baseline": "alphabetic", "font": "Liberation Mono", "fontSize": 20, "fill": "#3e9f9f"},
      "encoding": {
        "x": {"datum": 2406.19, "type": "quantitative", "axis": null},
        "y": {"datum": -0.4, "type": "quantitative", "axis": null},
        "text": {"value": "2.401972000 GHz"}
      }
    },
    {
      "data": {"name": "markers"},
      "transform": [{"filter": "datum.trace == 'T2'"}],
      "mark": {"type": "point", "shape": "triangle-down", "filled": true, "size": 120, "opacity": 1, "color": "#1d8282", "yOffset": -5},
      "encoding": {
        "x": {"field": "freq", "type": "quantitative", "axis": null},
        "y": {"field": "level", "type": "quantitative", "axis": null}
      }
    },
    {
      "data": {"name": "markers"},
      "transform": [{"filter": "datum.trace == 'T1'"}],
      "mark": {"type": "point", "shape": "triangle-up", "filled": true, "size": 120, "opacity": 1, "color": "#1d8282", "yOffset": 3},
      "encoding": {
        "x": {"field": "freq", "type": "quantitative", "axis": null},
        "y": {"field": "level", "type": "quantitative", "axis": null}
      }
    },
    {
      "data": {"name": "markers"},
      "mark": {"type": "text", "align": "center", "baseline": "alphabetic", "font": "Liberation Mono", "fontSize": 18, "fill": "#3e9f9f"},
      "encoding": {
        "x": {"field": "freq", "type": "quantitative", "axis": null},
        "y": {"datum": 0.75, "type": "quantitative", "axis": null},
        "text": {"field": "marker"}
      }
    }
  ]
}
